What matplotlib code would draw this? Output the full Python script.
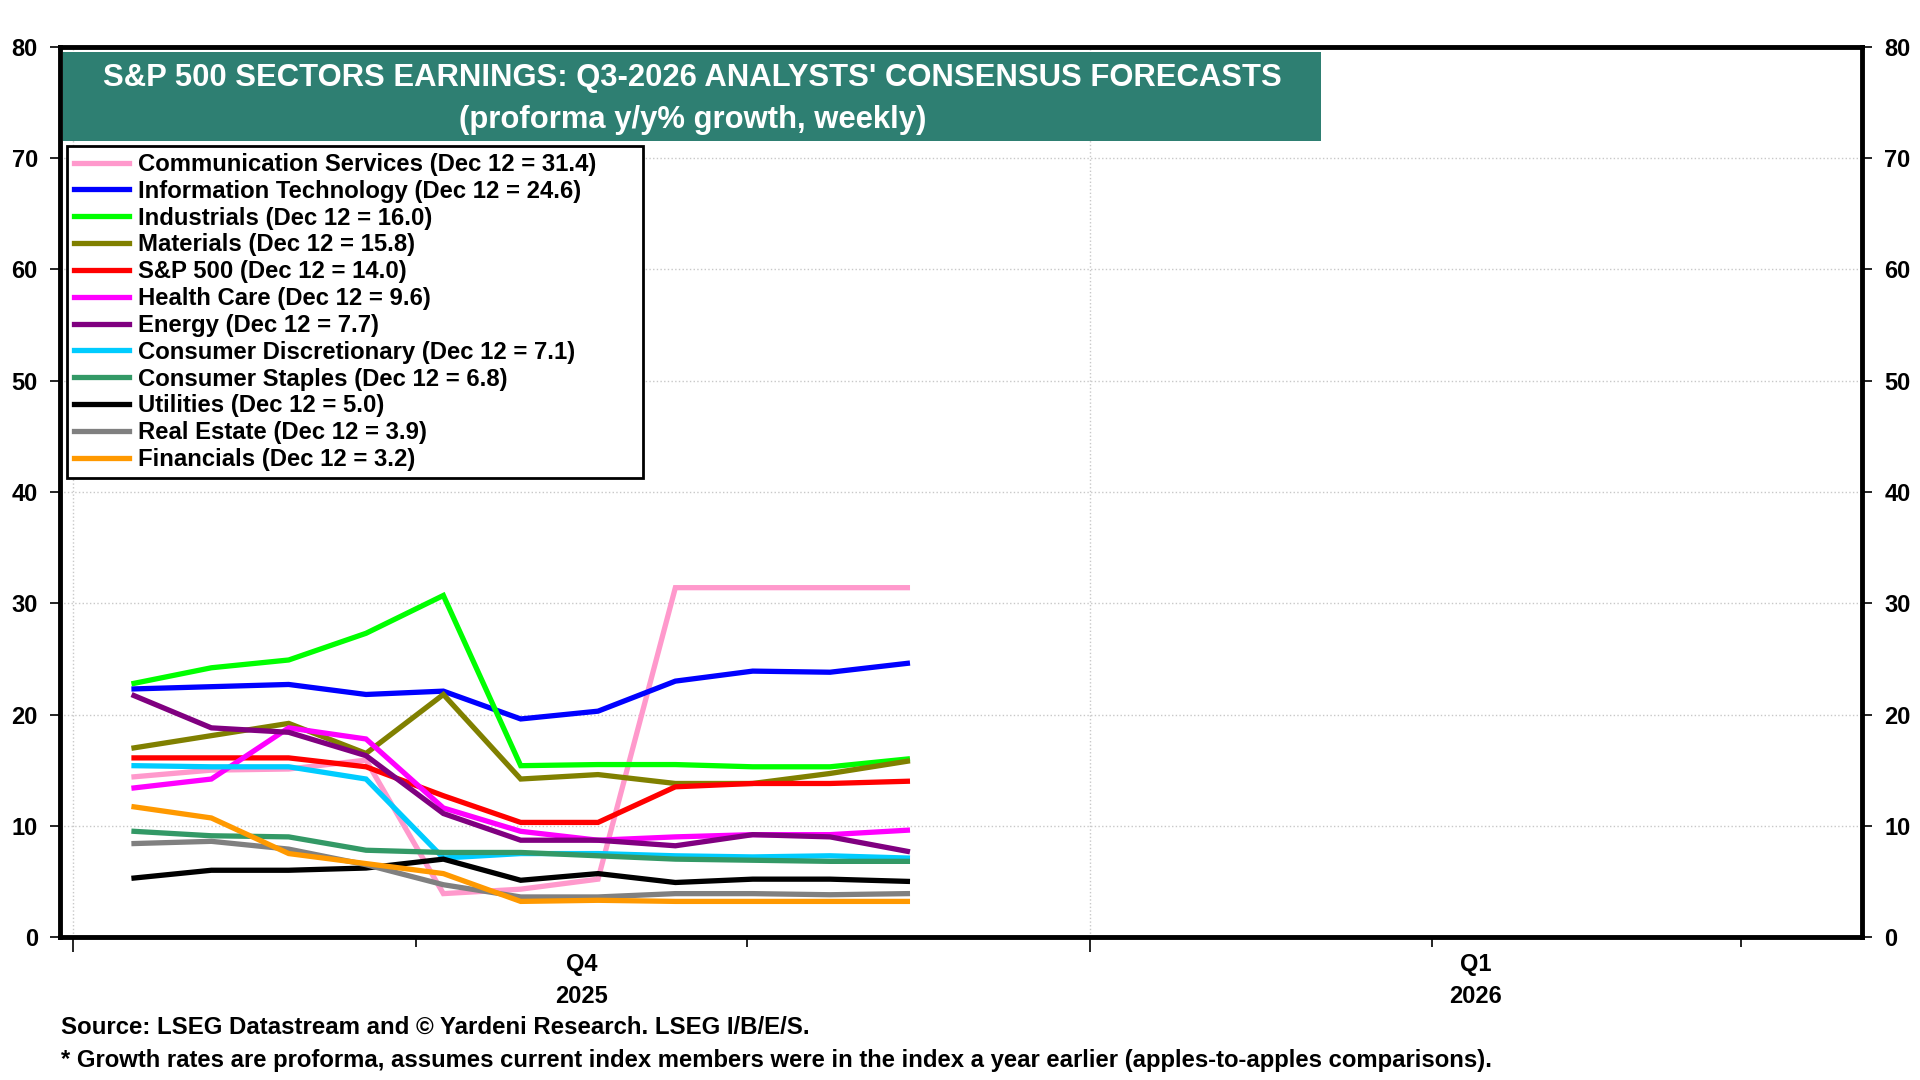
import numpy as np
import pandas as pd
import matplotlib
matplotlib.use('Agg')
import matplotlib.pyplot as plt
import matplotlib.dates as mdates
from matplotlib.lines import Line2D
from matplotlib.patches import Rectangle
from matplotlib.transforms import blended_transform_factory

plt.rcParams['font.family'] = ['Liberation Sans', 'DejaVu Sans']
plt.rcParams['font.weight'] = 'bold'

# weekly points (positions)
weeks = pd.date_range('2025-10-06 12:00', periods=11, freq='7D')

sectors = ['Communication Services', 'Information Technology', 'Industrials',
           'Materials', 'S&P 500', 'Health Care', 'Energy',
           'Consumer Discretionary', 'Consumer Staples', 'Utilities',
           'Real Estate', 'Financials']
latest = [31.4, 24.6, 16.0, 15.8, 14.0, 9.6, 7.7, 7.1, 6.8, 5.0, 3.9, 3.2]

comm_services = [14.4, 15.0, 15.1, 15.9, 3.9, 4.3, 5.2, 31.4, 31.4, 31.4, 31.4]
info_tech = [22.3, 22.5, 22.7, 21.8, 22.1, 19.6, 20.3, 23.0, 23.9, 23.8, 24.6]
industrials = [22.8, 24.2, 24.9, 27.3, 30.7, 15.4, 15.5, 15.5, 15.3, 15.3, 16.0]
materials = [17.0, 18.1, 19.2, 16.5, 21.8, 14.2, 14.6, 13.8, 13.8, 14.7, 15.8]
sp500 = [16.1, 16.1, 16.1, 15.3, 12.7, 10.3, 10.3, 13.5, 13.8, 13.8, 14.0]
health_care = [13.4, 14.2, 18.8, 17.8, 11.6, 9.5, 8.7, 9.0, 9.2, 9.2, 9.6]
energy = [21.7, 18.8, 18.4, 16.3, 11.1, 8.7, 8.7, 8.2, 9.2, 9.0, 7.7]
cons_disc = [15.4, 15.3, 15.3, 14.2, 7.1, 7.5, 7.5, 7.3, 7.2, 7.3, 7.1]
cons_staples = [9.5, 9.1, 9.0, 7.8, 7.6, 7.6, 7.3, 7.0, 6.9, 6.8, 6.8]
utilities = [5.3, 6.0, 6.0, 6.2, 7.0, 5.1, 5.7, 4.9, 5.2, 5.2, 5.0]
real_estate = [8.4, 8.6, 7.9, 6.5, 4.7, 3.6, 3.6, 3.9, 3.9, 3.8, 3.9]
financials = [11.7, 10.7, 7.5, 6.6, 5.7, 3.2, 3.3, 3.2, 3.2, 3.2, 3.2]

series = [comm_services, info_tech, industrials, materials, sp500, health_care,
          energy, cons_disc, cons_staples, utilities, real_estate, financials]
colors = ['#FF99CC', '#0000FF', '#00FF00', '#808000', '#FF0000', '#FF00FF',
          '#800080', '#00CCFF', '#339966', '#000000', '#808080', '#FF9900']

fig = plt.figure(figsize=(19.2, 10.8), dpi=100)
ax = fig.add_axes([0.03125, 0.1324, 0.9385, 0.8241])

for vals, c in zip(series, colors):
    ax.plot(weeks, vals, color=c, lw=3.8, solid_joinstyle='miter')

x0 = mdates.date2num(pd.Timestamp('2025-10-01')) - 1.2
x1 = mdates.date2num(pd.Timestamp('2026-01-01')) + 69.9
ax.set_xlim(x0, x1)
ax.set_ylim(0, 80)

# y axis both sides
ax.set_yticks(np.arange(0, 81, 10))
ax.tick_params(axis='y', which='both', direction='out', length=7, width=1.2,
               labelsize=17, pad=9, left=True, right=True,
               labelleft=True, labelright=True)
ax.grid(axis='y', color='#c8c8c8', ls=':', lw=1)

# x axis: quarters major, months minor
q_starts = [pd.Timestamp('2025-10-01'), pd.Timestamp('2026-01-01')]
ax.set_xticks([mdates.date2num(d) for d in q_starts])
ax.set_xticks([mdates.date2num(pd.Timestamp(d)) for d in
               ['2025-11-01', '2025-12-01', '2026-02-01', '2026-03-01']], minor=True)
ax.set_xticklabels([])
ax.tick_params(axis='x', which='major', direction='out', length=11, width=1.2)
ax.tick_params(axis='x', which='minor', direction='out', length=7, width=1.2)
for d in q_starts:
    ax.axvline(mdates.date2num(d), color='#c8c8c8', ls=':', lw=1, zorder=0)

for sp in ax.spines.values():
    sp.set_linewidth(3.5)

trans = blended_transform_factory(ax.transData, ax.transAxes)
q4_mid = (mdates.date2num(q_starts[0]) + mdates.date2num(q_starts[1])) / 2
q1_mid = (mdates.date2num(q_starts[1]) + x1) / 2
for xm, q, yr in [(q4_mid, 'Q4', '2025'), (q1_mid, 'Q1', '2026')]:
    ax.text(xm, -0.0305, q, transform=trans, ha='center', va='center', fontsize=17)
    ax.text(xm, -0.067, yr, transform=trans, ha='center', va='center', fontsize=17)

# title box
ax.add_patch(Rectangle((0.0014, 0.894), 0.6986, 0.1, transform=ax.transAxes,
                       facecolor='#2E7F72', edgecolor='none', zorder=5))
ax.text(0.351, 0.9655, "S&P 500 SECTORS EARNINGS: Q3-2026 ANALYSTS' CONSENSUS FORECASTS",
        transform=ax.transAxes, ha='center', va='center', color='white',
        fontsize=22.3, zorder=6)
ax.text(0.351, 0.9175, "(proforma y/y% growth, weekly)",
        transform=ax.transAxes, ha='center', va='center', color='white',
        fontsize=22.3, zorder=6)

handles = [Line2D([], [], color=c, lw=3.8) for c in colors]
labels = [f'{s} (Dec 12 = {v:.1f})' for s, v in zip(sectors, latest)]
leg = ax.legend(handles, labels, loc='upper left',
                bbox_to_anchor=(0.0039, 0.889, 0.3196, 0.0), mode='expand',
                fontsize=17.2, handlelength=2.3, handletextpad=0.38,
                labelspacing=0.16, borderpad=0.3, borderaxespad=0,
                fancybox=False, frameon=True, edgecolor='black', framealpha=1)
leg.get_frame().set_linewidth(2)
leg.set_zorder(7)

fig.text(0.032, 0.049, 'Source: LSEG Datastream and \u00a9 Yardeni Research. LSEG I/B/E/S.',
         ha='left', va='center', fontsize=17.3)
fig.text(0.032, 0.0185, '* Growth rates are proforma, assumes current index members were in the '
         'index a year earlier (apples-to-apples comparisons).',
         ha='left', va='center', fontsize=17.2)

fig.savefig('out.png', dpi=100)
